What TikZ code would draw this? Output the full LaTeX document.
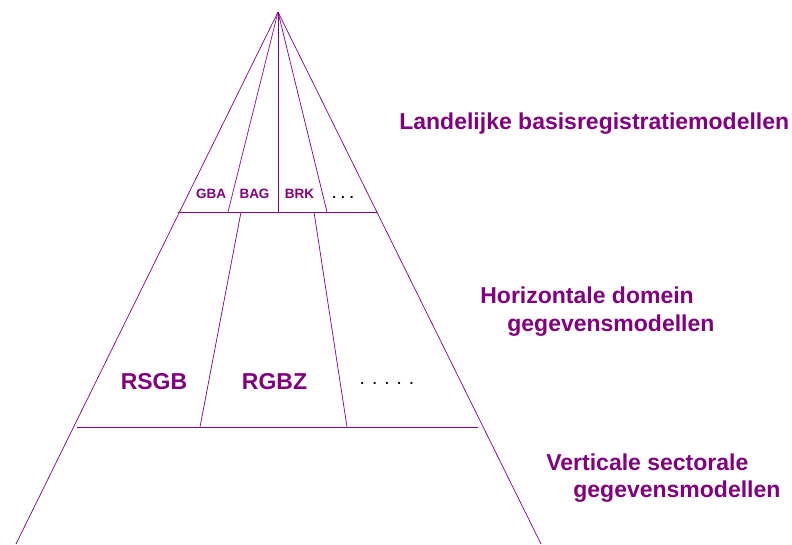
\documentclass[tikz,border=0pt]{standalone}
\usepackage{fontspec}
\setmainfont{Liberation Sans}
\definecolor{paars}{HTML}{800080}

\begin{document}
\begin{tikzpicture}[x=1pt,y=-1pt,line width=0.7pt,
        lijn/.style={draw=paars},
        klein/.style={text=paars,font=\bfseries\fontsize{13.5}{16}\selectfont,inner sep=0pt,anchor=base},
        groot/.style={text=paars,font=\bfseries\fontsize{23}{28}\selectfont,inner sep=0pt,anchor=base},
        laag/.style={groot,anchor=base west}]

  \useasboundingbox (0,0) rectangle (792,544);

  \coordinate (apex) at (278,12);
  \coordinate (l_0) at (16,544);
  \coordinate (r_0) at (541,544);
  \coordinate (l_1) at (178,212);
  \coordinate (r_1) at (377,212);
  \coordinate (l_2) at (77,427);
  \coordinate (r_2) at (478,427);
  \coordinate (t_1) at (228,212);
  \coordinate (t_2) at (278,212);
  \coordinate (t_3) at (327,212);
  \coordinate (d_1) at (241,212);
  \coordinate (d_2) at (200,427);
  \coordinate (d_3) at (314,212);
  \coordinate (d_4) at (347,427);

  \path[lijn] (apex) edge (l_0)
              (apex) edge (r_0)
              (apex) edge (t_1)
              (apex) edge (t_2)
              (apex) edge (t_3)
              (l_1)  edge (r_1)
              (d_1)  edge (d_2)
              (d_3)  edge (d_4)
              (l_2)  edge (r_2);

  \node[klein] (gba) at (211,198) {GBA};
  \node[klein] (bag) at (254.5,198) {BAG};
  \node[klein] (brk) at (299.5,198) {BRK};
  \node[klein,text=black] (meer_1) at (343,198) {. . .};

  \node[groot] (rsgb) at (154,389) {RSGB};
  \node[groot] (rgbz) at (274.5,389) {RGBZ};
  \node[klein,text=black,font=\fontsize{19}{22}\selectfont] (meer_2) at (387,384) {. . . . .};

  \node[laag] (landelijk) at (399,129) {Landelijke basisregistratiemodellen};
  \node[laag] (horizontaal_1) at (480,303) {Horizontale domein};
  \node[laag] (horizontaal_2) at (507,331) {gegevensmodellen};
  \node[laag] (verticaal_1) at (546,470) {Verticale sectorale};
  \node[laag] (verticaal_2) at (573,497) {gegevensmodellen};

\end{tikzpicture}
\end{document}
